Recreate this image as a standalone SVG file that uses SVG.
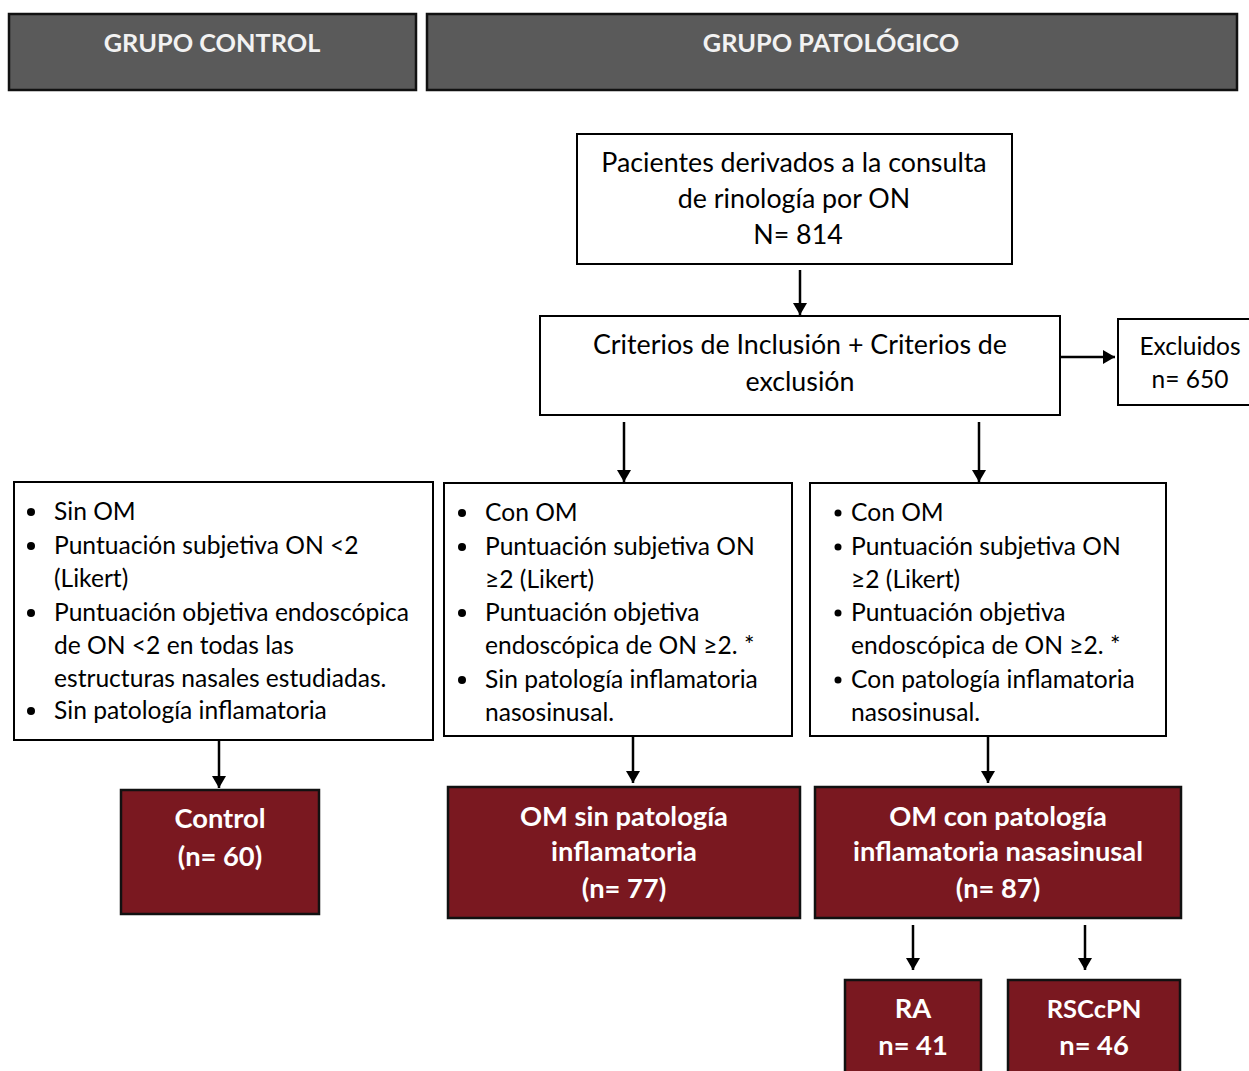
<svg xmlns="http://www.w3.org/2000/svg" width="1249" height="1071" viewBox="0 0 1249 1071">
<defs>
<marker id="ah" markerWidth="12" markerHeight="14" refX="12" refY="7" orient="auto" markerUnits="userSpaceOnUse">
<path d="M0,0 L12,7 L0,14 Z" fill="#000"/>
</marker>
<style>
.hdr{fill:#5a5a5a;stroke:#111;stroke-width:2.5}
.hdrt{font-family:Lato,"Liberation Sans",sans-serif;font-weight:bold;font-size:25.3px;fill:#f2f2f2;text-anchor:middle}
.box{fill:#fff;stroke:#000;stroke-width:2}
.t{font-family:Lato,"Liberation Sans",sans-serif;font-size:26.8px;fill:#000;text-anchor:middle}
.ts{font-family:Lato,"Liberation Sans",sans-serif;font-size:24.5px;fill:#000;text-anchor:middle}
.lt{font-family:Lato,"Liberation Sans",sans-serif;font-size:24.6px;fill:#000}
.res{fill:#7a1820;stroke:#111;stroke-width:2.5}
.rt{font-family:Lato,"Liberation Sans",sans-serif;font-weight:bold;font-size:27.3px;fill:#fff;text-anchor:middle}
.c{stroke:#000;stroke-width:2.5;fill:none;marker-end:url(#ah)}
</style>
</defs>
<g id="hdr-control"><rect class="hdr" x="9" y="14" width="407" height="76"/><text class="hdrt" x="212" y="52">GRUPO CONTROL</text></g>
<g id="hdr-pato"><rect class="hdr" x="427" y="14" width="810" height="76"/><text class="hdrt" x="831" y="52">GRUPO PATOLÓGICO</text></g>
<g id="pacientes"><rect class="box" x="577" y="134" width="435" height="130"/>
<text class="t" x="794" y="172">Pacientes derivados a la consulta</text>
<text class="t" x="794" y="208">de rinología por ON</text>
<text class="t" x="798" y="244">N= 814</text></g>
<g id="criterios"><rect class="box" x="540" y="316" width="520" height="99"/>
<text class="t" x="800" y="354">Criterios de Inclusión + Criterios de</text>
<text class="t" x="800" y="391">exclusión</text></g>
<g id="excluidos"><rect class="box" x="1118" y="319" width="140" height="86"/>
<text class="ts" x="1190" y="355">Excluidos</text>
<text class="ts" x="1190" y="388">n= 650</text></g>
<g id="crit-control"><rect class="box" x="14" y="482" width="419" height="258"/>
<g class="lt">
<circle cx="31" cy="512" r="4"/><text x="54" y="520">Sin OM</text>
<circle cx="31" cy="546" r="4"/><text x="54" y="554">Puntuación subjetiva ON &lt;2</text>
<text x="54" y="587">(Likert)</text>
<circle cx="31" cy="613" r="4"/><text x="54" y="621">Puntuación objetiva endoscópica</text>
<text x="54" y="654">de ON &lt;2 en todas las</text>
<text x="54" y="687">estructuras nasales estudiadas.</text>
<circle cx="31" cy="711" r="4"/><text x="54" y="719">Sin patología inflamatoria</text>
</g></g>
<g id="crit-sin"><rect class="box" x="444" y="483" width="348" height="253"/>
<g class="lt">
<circle cx="462" cy="513" r="4"/><text x="485" y="521">Con OM</text>
<circle cx="462" cy="547" r="4"/><text x="485" y="555">Puntuación subjetiva ON</text>
<text x="485" y="588">≥2 (Likert)</text>
<circle cx="462" cy="613" r="4"/><text x="485" y="621">Puntuación objetiva</text>
<text x="485" y="654">endoscópica de ON ≥2. *</text>
<circle cx="462" cy="680" r="4"/><text x="485" y="688">Sin patología inflamatoria</text>
<text x="485" y="721">nasosinusal.</text>
</g></g>
<g id="crit-con"><rect class="box" x="810" y="483" width="356" height="253"/>
<g class="lt">
<circle cx="838" cy="513" r="3.5"/><text x="851" y="521">Con OM</text>
<circle cx="838" cy="547" r="3.5"/><text x="851" y="555">Puntuación subjetiva ON</text>
<text x="851" y="588">≥2 (Likert)</text>
<circle cx="838" cy="613" r="3.5"/><text x="851" y="621">Puntuación objetiva</text>
<text x="851" y="654">endoscópica de ON ≥2. *</text>
<circle cx="838" cy="680" r="3.5"/><text x="851" y="688">Con patología inflamatoria</text>
<text x="851" y="721">nasosinusal.</text>
</g></g>
<g id="control"><rect class="res" x="121" y="790" width="198" height="124"/>
<text class="rt" x="220" y="828">Control</text><text class="rt" x="220" y="866">(n= 60)</text></g>
<g id="om-sin"><rect class="res" x="448" y="787" width="352" height="131"/>
<text class="rt" x="624" y="826">OM sin patología</text><text class="rt" x="624" y="861">inflamatoria</text><text class="rt" x="624" y="898">(n= 77)</text></g>
<g id="om-con"><rect class="res" x="815" y="787" width="366" height="131"/>
<text class="rt" x="998" y="826">OM con patología</text><text class="rt" x="998" y="861">inflamatoria nasasinusal</text><text class="rt" x="998" y="898">(n= 87)</text></g>
<g id="ra"><rect class="res" x="845" y="980" width="136" height="100"/>
<text class="rt" x="913" y="1018">RA</text><text class="rt" x="913" y="1055">n= 41</text></g>
<g id="rsccpn"><rect class="res" x="1008" y="980" width="172" height="100"/>
<text class="rt" x="1094" y="1018" style="font-size:25.5px">RSCcPN</text><text class="rt" x="1094" y="1055">n= 46</text></g>
<g id="connectors">
<line class="c" x1="800" y1="270" x2="800" y2="315"/>
<line class="c" x1="1061" y1="357" x2="1115" y2="357"/>
<line class="c" x1="624" y1="422" x2="624" y2="482"/>
<line class="c" x1="979" y1="422" x2="979" y2="482"/>
<line class="c" x1="219" y1="741" x2="219" y2="788"/>
<line class="c" x1="633" y1="737" x2="633" y2="783"/>
<line class="c" x1="988" y1="737" x2="988" y2="783"/>
<line class="c" x1="913" y1="925" x2="913" y2="970"/>
<line class="c" x1="1085" y1="925" x2="1085" y2="970"/>
</g>
</svg>
